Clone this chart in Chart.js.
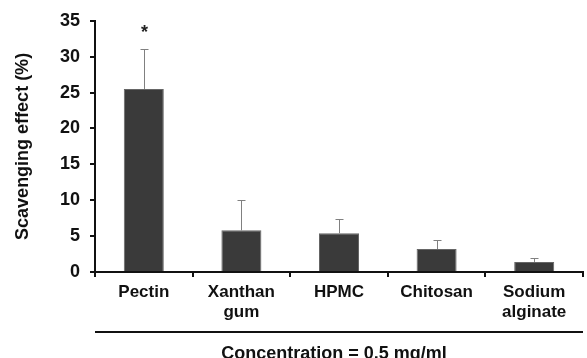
<!DOCTYPE html>
<html>
<head>
<meta charset="utf-8">
<script src="https://cdn.jsdelivr.net/npm/chart.js@4.4.0/dist/chart.umd.min.js"></script>
<style>
  html, body { margin: 0; padding: 0; background: #fff; }
  #wrap { width: 587px; height: 358px; }
</style>
</head>
<body>
<div id="wrap"><canvas id="myChart" width="587" height="358"></canvas></div>
<script>
// values
var categories = ["Pectin", ["Xanthan", "gum"], "HPMC", "Chitosan", ["Sodium", "alginate"]]
var scavenging = [25.5, 5.8, 5.4, 3.2, 1.4]
var errUp = [5.6, 4.2, 2.0, 1.2, 0.5]
var marks = ["*", "", "", "", ""]
var yTicks = [0, 5, 10, 15, 20, 25, 30, 35]
var bottomTitle = "Concentration = 0.5 mg/ml"

var fontFam = "'Liberation Sans', Arial, sans-serif"

// error bars (upper only), asterisk, line + caption under the axis
var extras = {
  id: "extras",
  afterDatasetsDraw: function(chart){
    var ctx = chart.ctx
    var x = chart.scales.x
    var y = chart.scales.y
    ctx.save()
    ctx.strokeStyle = "#808080"
    ctx.lineWidth = 1
    for(var i=0;i<scavenging.length;i++){
      var px = Math.round(x.getPixelForValue(i)) + 0.5
      var top = y.getPixelForValue(scavenging[i])
      var end = Math.round(y.getPixelForValue(scavenging[i] + errUp[i])) + 0.5
      ctx.beginPath()
      ctx.moveTo(px, top)
      ctx.lineTo(px, end)
      ctx.moveTo(px - 4, end)
      ctx.lineTo(px + 4, end)
      ctx.stroke()
      if(marks[i]){
        ctx.fillStyle = "#222"
        ctx.font = "bold 18px " + fontFam
        ctx.textAlign = "center"
        ctx.textBaseline = "middle"
        ctx.fillText(marks[i], px, end - 16)
      }
    }
    // line under the category labels
    ctx.strokeStyle = "#111"
    ctx.lineWidth = 2
    ctx.beginPath()
    ctx.moveTo(x.left, 332)
    ctx.lineTo(x.right, 332)
    ctx.stroke()
    ctx.fillStyle = "#111"
    ctx.font = "bold 18px " + fontFam
    ctx.textAlign = "center"
    ctx.textBaseline = "top"
    ctx.fillText(bottomTitle, 334, 345)
    ctx.restore()
  }
}

var char = new Chart(document.getElementById("myChart"), {
  type: "bar",
  data: {
    labels: categories,
    datasets: [{
      label: "Scavenging effect",
      data: scavenging,
      backgroundColor: "#3a3a3a",
      borderColor: "#666",
      borderWidth: 1,
      barPercentage: 0.41,
      categoryPercentage: 1
    }]
  },
  options: {
    responsive: false,
    animation: false,
    layout: { padding: { top: 20, right: 4, left: 0, bottom: 0 } },
    plugins: {
      legend: { display: false },
      tooltip: { enabled: false }
    },
    scales: {
      x: {
        grid: { display: true, drawOnChartArea: false, drawTicks: true, tickLength: 5, color: "#111", lineWidth: 2, offset: true },
        border: { display: true, color: "#111", width: 2 },
        ticks: { color: "#111", font: { family: fontFam, size: 17, weight: "bold" }, padding: 5, maxRotation: 0, autoSkip: false, lineHeight: 1.15 },
        afterFit: function(s){ s.height = 86 }
      },
      y: {
        min: 0,
        max: 35,
        afterBuildTicks: function(s){ s.ticks = yTicks.map(function(v){ return {value: v} }) },
        grid: { display: true, drawOnChartArea: false, drawTicks: true, tickLength: 5, color: "#111", lineWidth: 2 },
        border: { display: true, color: "#111", width: 2 },
        ticks: { color: "#111", font: { family: fontFam, size: 18, weight: "bold" }, padding: 10 },
        title: { display: true, text: "Scavenging effect (%)", color: "#111", font: { family: fontFam, size: 18, weight: "bold" }, padding: { top: 12, bottom: 6 } },
        afterFit: function(s){ s.width = 95 }
      }
    }
  },
  plugins: [extras]
})
</script>
</body>
</html>
